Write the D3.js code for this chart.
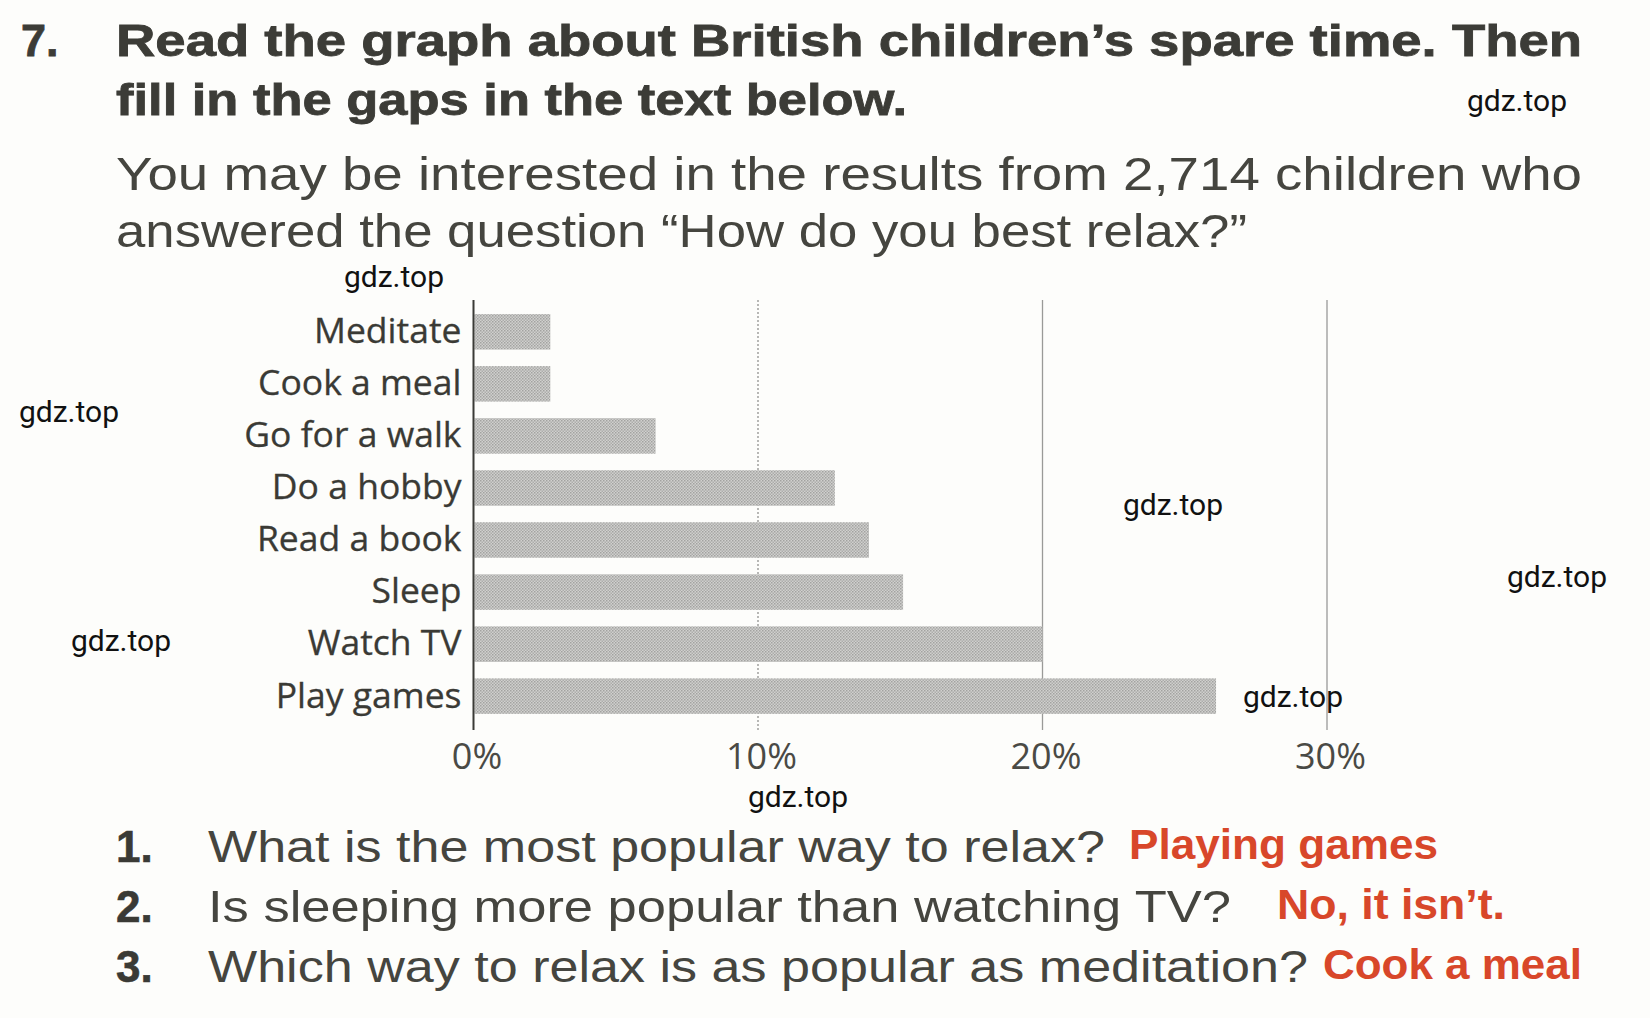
<!DOCTYPE html>
<html>
<head>
<meta charset="utf-8">
<script src="https://cdn.jsdelivr.net/npm/d3@7"></script>
<style>
  html, body { margin: 0; padding: 0; background: #fdfdfb; }
  svg { display: block; }
</style>
</head>
<body>
<svg id="chart" width="1650" height="1018"></svg>
<script>
// ---- data ----
const categories = ["Meditate", "Cook a meal", "Go for a walk", "Do a hobby", "Read a book", "Sleep", "Watch TV", "Play games"];
const values = [2.7, 2.7, 6.4, 12.7, 13.9, 15.1, 20.0, 26.1];
const xTicks = [0, 10, 20, 30];
const tickLabels = ["0%", "10%", "20%", "30%"];

const titleLines = ["Read the graph about British children\u2019s spare time. Then", "fill in the gaps in the text below."];
const introLines = ["You may be interested in the results from 2,714 children who", "answered the question \u201cHow do you best relax?\u201d"];
const questions = ["What is the most popular way to relax?", "Is sleeping more popular than watching TV?", "Which way to relax is as popular as meditation?"];
const answers = ["Playing games", "No, it isn\u2019t.", "Cook a meal"];
const watermarks = [[1517, 100], [394, 276], [69, 411], [1173, 504], [1557, 576], [121, 640], [1293, 696], [798, 796]];

// ---- drawing ----
const svg = d3.select("#chart");
const W = 1650, H = 1018;
const ink = "#3c3c37";

svg.append("rect").attr("width", W).attr("height", H).attr("fill", "#fdfdfb");

// halftone pattern for bars
const defs = svg.append("defs");
const pat = defs.append("pattern").attr("id", "dots").attr("width", 3).attr("height", 3)
  .attr("patternUnits", "userSpaceOnUse");
pat.append("rect").attr("width", 3).attr("height", 3).attr("fill", "#d0d0ce");
pat.append("rect").attr("x", 0).attr("y", 0).attr("width", 1.5).attr("height", 1.5).attr("fill", "#a2a2a0");
pat.append("rect").attr("x", 1.5).attr("y", 1.5).attr("width", 1.5).attr("height", 1.5).attr("fill", "#adadab");

// title
svg.append("text").attr("x", 21).attr("y", 56)
  .attr("font-family", "Liberation Sans, Arial, sans-serif").attr("font-weight", 700)
  .attr("font-size", 45).attr("fill", ink).attr("stroke", ink).attr("stroke-width", 0.8)
  .text("7.");
const titleEnds = [1582, 907];
titleLines.forEach((t, i) => {
  svg.append("text").attr("x", 116).attr("y", 56 + i * 59)
    .attr("font-family", "Liberation Sans, Arial, sans-serif").attr("font-weight", 700)
    .attr("font-size", 45).attr("fill", ink).attr("stroke", ink).attr("stroke-width", 0.8)
    .attr("textLength", titleEnds[i] - 116).attr("lengthAdjust", "spacingAndGlyphs")
    .text(t);
});

// intro paragraph
const introEnds = [1582, 1247];
introLines.forEach((t, i) => {
  svg.append("text").attr("x", 116).attr("y", 190 + i * 57)
    .attr("font-family", "Liberation Sans, Arial, sans-serif")
    .attr("font-size", 46).attr("fill", "#45453f")
    .attr("textLength", introEnds[i] - 116).attr("lengthAdjust", "spacingAndGlyphs")
    .text(t);
});

// chart scales
const x = d3.scaleLinear().domain([0, 30]).range([473.5, 1327]);
const y = d3.scaleBand().domain(categories).range([299, 729]).paddingInner(0.318).paddingOuter(0.29);

// gridlines
const grid = svg.append("g");
grid.selectAll("line").data(xTicks.filter(d => d > 0)).join("line")
  .attr("x1", d => x(d)).attr("x2", d => x(d))
  .attr("y1", 300).attr("y2", 730)
  .attr("stroke", d => d === 10 ? "#8a8a88" : "#9a9a98")
  .attr("stroke-width", d => d === 10 ? 1.2 : 1.3)
  .attr("stroke-dasharray", d => d === 10 ? "2,2" : null);

// bars
svg.append("g").selectAll("rect").data(categories).join("rect")
  .attr("x", x(0) + 1).attr("y", d => y(d))
  .attr("width", (d, i) => x(values[i]) - x(0) - 1)
  .attr("height", y.bandwidth())
  .attr("fill", "url(#dots)");

// y axis line + labels
const yAxis = d3.axisLeft(y).tickSize(0).tickPadding(12);
const gy = svg.append("g").attr("transform", `translate(${x(0)},0)`).call(yAxis);
gy.select(".domain").remove();
gy.selectAll("text").attr("font-family", "Open Sans, sans-serif").attr("font-size", 35.5)
  .attr("fill", "#3a3a35").attr("stroke", "#3a3a35").attr("stroke-width", 0.3);
svg.append("line").attr("x1", x(0)).attr("x2", x(0)).attr("y1", 300).attr("y2", 730)
  .attr("stroke", "#3a3a36").attr("stroke-width", 2);

// x axis tick labels
const xAxis = d3.axisBottom(x).tickValues(xTicks).tickSize(0).tickPadding(0)
  .tickFormat((d, i) => tickLabels[i]);
const gx = svg.append("g").attr("transform", "translate(3,743)").call(xAxis);
gx.select(".domain").remove();
gx.selectAll("text").attr("font-family", "Open Sans, sans-serif").attr("font-size", 36)
  .attr("fill", "#4a4a45").attr("dy", "0.71em");

// questions
const qEnds = [1105, 1231, 1308];
const aStarts = [1129, 1277, 1323];
const aEnds = [1438, 1505, 1582];
questions.forEach((q, i) => {
  const yy = 862 + i * 60;
  svg.append("text").attr("x", 116).attr("y", yy)
    .attr("font-family", "Liberation Sans, Arial, sans-serif").attr("font-weight", 700)
    .attr("font-size", 44).attr("fill", "#3a3a35").attr("stroke", "#3a3a35").attr("stroke-width", 0.6)
    .text((i + 1) + ".");
  svg.append("text").attr("x", 208).attr("y", yy)
    .attr("font-family", "Liberation Sans, Arial, sans-serif")
    .attr("font-size", 44).attr("fill", "#45453f")
    .attr("textLength", qEnds[i] - 208).attr("lengthAdjust", "spacingAndGlyphs")
    .text(q);
  svg.append("text").attr("x", aStarts[i]).attr("y", yy - 3)
    .attr("font-family", "Liberation Sans, Arial, sans-serif").attr("font-weight", 700)
    .attr("font-size", 42).attr("fill", "#d8472a")
    .attr("textLength", aEnds[i] - aStarts[i]).attr("lengthAdjust", "spacingAndGlyphs")
    .text(answers[i]);
});

// watermarks
svg.append("g").selectAll("text").data(watermarks).join("text")
  .attr("x", d => d[0]).attr("y", d => d[1])
  .attr("text-anchor", "middle").attr("dy", "0.35em")
  .attr("font-family", "Roboto, sans-serif").attr("font-size", 30).attr("fill", "#111")
  .text("gdz.top");
</script>
</body>
</html>
